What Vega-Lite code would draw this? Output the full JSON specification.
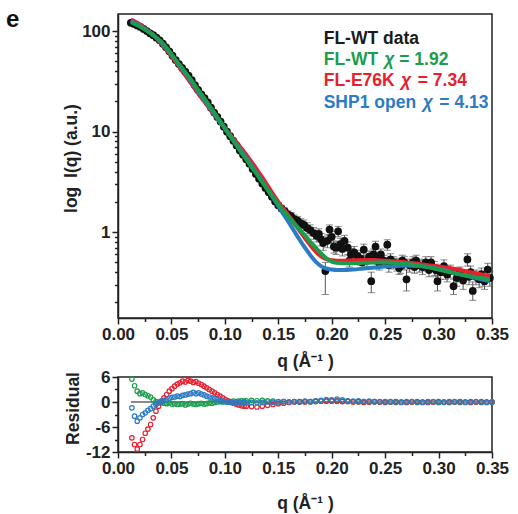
{
  "$schema": "https://vega.github.io/schema/vega-lite/v6.json",
  "background": "white",
  "padding": {"left": 5, "top": 7, "right": 5, "bottom": 5},
  "bounds": "flush",
  "spacing": 59,
  "config": {
    "font": "Liberation Sans",
    "view": {"stroke": "#222", "strokeWidth": 1.5},
    "axis": {
      "grid": false,
      "labelFont": "Liberation Sans", "labelFontWeight": "bold", "labelFontSize": 17, "labelColor": "#222",
      "titleFont": "Liberation Sans", "titleFontWeight": "bold", "titleFontSize": 17.5, "titleColor": "#222",
      "domainColor": "#222", "domainWidth": 1.5, "tickColor": "#222", "tickWidth": 1.5,
      "labelFlush": false, "labelOverlap": false, "labelPadding": 2
    }
  },
  "datasets": {
    "panel": [{"q": -0.1048, "I": 128, "t": "e"}],
    "obs": [
      {"q":0.012,"I":121},{"q":0.015,"I":118},{"q":0.018,"I":114},{"q":0.021,"I":110},{"q":0.024,"I":105},{"q":0.027,"I":100},{"q":0.030,"I":95},{"q":0.033,"I":91},{"q":0.036,"I":86},{"q":0.039,"I":81},{"q":0.042,"I":75},{"q":0.045,"I":69},{"q":0.048,"I":63},{"q":0.051,"I":57},{"q":0.054,"I":51.5},{"q":0.057,"I":47},{"q":0.060,"I":43},{"q":0.063,"I":39.5},{"q":0.066,"I":36},{"q":0.069,"I":32.5},{"q":0.072,"I":29},{"q":0.075,"I":26},{"q":0.078,"I":23.5},{"q":0.081,"I":21.5},{"q":0.084,"I":19.5},{"q":0.087,"I":17.3},{"q":0.090,"I":15.5},{"q":0.093,"I":14},{"q":0.096,"I":12.6},{"q":0.099,"I":11.2},{"q":0.102,"I":10},{"q":0.105,"I":9.0},{"q":0.108,"I":8.1},{"q":0.111,"I":7.3},{"q":0.114,"I":6.5},{"q":0.117,"I":5.9},{"q":0.120,"I":5.3},{"q":0.123,"I":4.8},{"q":0.126,"I":4.25},{"q":0.129,"I":3.8},{"q":0.132,"I":3.4},{"q":0.135,"I":3.05},{"q":0.138,"I":2.75},{"q":0.141,"I":2.5},{"q":0.144,"I":2.25},{"q":0.147,"I":2.02},
      {"q":0.150,"I":1.85,"lo":1.75,"hi":1.95},{"q":0.153,"I":1.72,"lo":1.62,"hi":1.82},{"q":0.156,"I":1.62,"lo":1.5,"hi":1.74},{"q":0.159,"I":1.5,"lo":1.38,"hi":1.62},{"q":0.162,"I":1.44,"lo":1.32,"hi":1.56},{"q":0.165,"I":1.35,"lo":1.22,"hi":1.48},{"q":0.168,"I":1.3,"lo":1.17,"hi":1.43},{"q":0.171,"I":1.22,"lo":1.08,"hi":1.36},{"q":0.174,"I":1.18,"lo":1.04,"hi":1.32},{"q":0.177,"I":1.1,"lo":0.96,"hi":1.24},{"q":0.180,"I":1.05,"lo":0.92,"hi":1.18},{"q":0.183,"I":0.98,"lo":0.85,"hi":1.11},{"q":0.186,"I":0.92,"lo":0.8,"hi":1.04},{"q":0.188,"I":0.96,"lo":0.84,"hi":1.08},{"q":0.190,"I":0.85,"lo":0.73,"hi":0.97},{"q":0.192,"I":0.78,"lo":0.66,"hi":0.9},{"q":0.194,"I":0.41,"lo":0.24,"hi":0.5},{"q":0.196,"I":0.82,"lo":0.7,"hi":0.94},{"q":0.198,"I":1.06,"lo":0.94,"hi":1.18},{"q":0.200,"I":0.9,"lo":0.78,"hi":1.02},{"q":0.202,"I":0.72,"lo":0.62,"hi":0.82},{"q":0.204,"I":0.7,"lo":0.6,"hi":0.8},{"q":0.206,"I":1.02,"lo":0.9,"hi":1.14},{"q":0.208,"I":0.76,"lo":0.65,"hi":0.87},{"q":0.210,"I":0.68,"lo":0.58,"hi":0.78},{"q":0.212,"I":0.82,"lo":0.71,"hi":0.93},{"q":0.215,"I":0.7,"lo":0.6,"hi":0.8},{"q":0.218,"I":0.6,"lo":0.51,"hi":0.69},{"q":0.221,"I":0.63,"lo":0.54,"hi":0.72},{"q":0.224,"I":0.58,"lo":0.5,"hi":0.66},{"q":0.227,"I":0.55,"lo":0.47,"hi":0.63},{"q":0.230,"I":0.67,"lo":0.58,"hi":0.76},{"q":0.233,"I":0.52,"lo":0.45,"hi":0.59},{"q":0.235,"I":0.57,"lo":0.49,"hi":0.65},{"q":0.237,"I":0.325,"lo":0.25,"hi":0.4},{"q":0.239,"I":0.6,"lo":0.52,"hi":0.68},{"q":0.241,"I":0.72,"lo":0.63,"hi":0.81},{"q":0.243,"I":0.555,"lo":0.48,"hi":0.63},{"q":0.246,"I":0.6,"lo":0.52,"hi":0.68},{"q":0.249,"I":0.52,"lo":0.45,"hi":0.59},{"q":0.252,"I":0.75,"lo":0.66,"hi":0.84},{"q":0.255,"I":0.535,"lo":0.46,"hi":0.61},{"q":0.258,"I":0.5,"lo":0.43,"hi":0.57},{"q":0.261,"I":0.48,"lo":0.41,"hi":0.55},{"q":0.263,"I":0.44,"lo":0.38,"hi":0.5},{"q":0.266,"I":0.52,"lo":0.45,"hi":0.59},{"q":0.268,"I":0.5,"lo":0.43,"hi":0.57},{"q":0.270,"I":0.34,"lo":0.26,"hi":0.42},{"q":0.273,"I":0.47,"lo":0.4,"hi":0.54},{"q":0.276,"I":0.5,"lo":0.43,"hi":0.57},{"q":0.279,"I":0.52,"lo":0.45,"hi":0.59},{"q":0.282,"I":0.47,"lo":0.4,"hi":0.54},{"q":0.285,"I":0.45,"lo":0.38,"hi":0.52},{"q":0.288,"I":0.5,"lo":0.43,"hi":0.57},{"q":0.291,"I":0.42,"lo":0.36,"hi":0.48},{"q":0.293,"I":0.5,"lo":0.43,"hi":0.57},{"q":0.296,"I":0.44,"lo":0.37,"hi":0.51},{"q":0.299,"I":0.325,"lo":0.26,"hi":0.39},{"q":0.302,"I":0.4,"lo":0.34,"hi":0.46},{"q":0.305,"I":0.46,"lo":0.39,"hi":0.53},{"q":0.308,"I":0.38,"lo":0.32,"hi":0.44},{"q":0.311,"I":0.41,"lo":0.35,"hi":0.47},{"q":0.314,"I":0.29,"lo":0.24,"hi":0.34},{"q":0.317,"I":0.35,"lo":0.29,"hi":0.41},{"q":0.320,"I":0.39,"lo":0.33,"hi":0.45},{"q":0.323,"I":0.33,"lo":0.27,"hi":0.39},{"q":0.327,"I":0.535,"lo":0.46,"hi":0.61},{"q":0.330,"I":0.4,"lo":0.34,"hi":0.46},{"q":0.332,"I":0.26,"lo":0.21,"hi":0.32},{"q":0.335,"I":0.36,"lo":0.3,"hi":0.42},{"q":0.338,"I":0.34,"lo":0.28,"hi":0.4},{"q":0.340,"I":0.38,"lo":0.32,"hi":0.44},{"q":0.343,"I":0.325,"lo":0.27,"hi":0.38},{"q":0.346,"I":0.425,"lo":0.36,"hi":0.49},{"q":0.348,"I":0.35,"lo":0.29,"hi":0.41},
      {"q":0.2165,"I":0.52,"lo":0.45,"hi":0.59},{"q":0.2285,"I":0.5,"lo":0.43,"hi":0.57},{"q":0.2445,"I":0.49,"lo":0.42,"hi":0.56},{"q":0.2535,"I":0.47,"lo":0.4,"hi":0.54},{"q":0.2645,"I":0.46,"lo":0.39,"hi":0.53},{"q":0.2775,"I":0.45,"lo":0.39,"hi":0.51},{"q":0.2865,"I":0.47,"lo":0.41,"hi":0.53},{"q":0.2975,"I":0.42,"lo":0.36,"hi":0.48},{"q":0.3065,"I":0.4,"lo":0.34,"hi":0.46},{"q":0.3185,"I":0.38,"lo":0.32,"hi":0.44},{"q":0.3285,"I":0.36,"lo":0.3,"hi":0.42},{"q":0.3415,"I":0.35,"lo":0.29,"hi":0.41}
    ],
    "fits": [
      {"q":0.012,"g":122,"r":130,"b":126},{"q":0.015,"g":119,"r":126,"b":122},{"q":0.020,"g":112,"r":117,"b":114},{"q":0.025,"g":104,"r":107,"b":105},{"q":0.030,"g":96,"r":97,"b":96.5},{"q":0.035,"g":88,"r":87,"b":88},{"q":0.040,"g":79,"r":76,"b":78},{"q":0.045,"g":69.5,"r":66,"b":68},{"q":0.050,"g":59,"r":56,"b":58},{"q":0.055,"g":50,"r":48,"b":49.5},{"q":0.060,"g":43,"r":40,"b":42},{"q":0.065,"g":36.5,"r":34,"b":35.5},{"q":0.070,"g":31,"r":28.5,"b":30},{"q":0.075,"g":26,"r":24,"b":25},{"q":0.080,"g":22,"r":20.5,"b":21.2},{"q":0.085,"g":18.5,"r":17.3,"b":17.8},{"q":0.090,"g":15.5,"r":14.8,"b":15},{"q":0.095,"g":13,"r":12.6,"b":12.7},{"q":0.100,"g":10.8,"r":10.8,"b":10.8},{"q":0.105,"g":9.0,"r":9.3,"b":9.1},{"q":0.110,"g":7.5,"r":8.0,"b":7.7},{"q":0.115,"g":6.3,"r":6.9,"b":6.5},{"q":0.120,"g":5.3,"r":5.9,"b":5.5},{"q":0.125,"g":4.45,"r":5.0,"b":4.6},{"q":0.130,"g":3.75,"r":4.2,"b":3.85},{"q":0.135,"g":3.15,"r":3.5,"b":3.2},{"q":0.140,"g":2.65,"r":2.9,"b":2.65},{"q":0.145,"g":2.25,"r":2.4,"b":2.2},{"q":0.150,"g":1.9,"r":2.0,"b":1.82},{"q":0.155,"g":1.62,"r":1.7,"b":1.5},{"q":0.160,"g":1.4,"r":1.45,"b":1.24},{"q":0.165,"g":1.22,"r":1.22,"b":1.02},{"q":0.170,"g":1.06,"r":1.03,"b":0.84},{"q":0.175,"g":0.92,"r":0.87,"b":0.7},{"q":0.180,"g":0.8,"r":0.74,"b":0.59},{"q":0.185,"g":0.7,"r":0.64,"b":0.51},{"q":0.190,"g":0.615,"r":0.575,"b":0.46},{"q":0.195,"g":0.55,"r":0.54,"b":0.435},{"q":0.200,"g":0.51,"r":0.525,"b":0.425},{"q":0.205,"g":0.495,"r":0.52,"b":0.42},{"q":0.210,"g":0.49,"r":0.52,"b":0.42},{"q":0.220,"g":0.49,"r":0.525,"b":0.425},{"q":0.230,"g":0.495,"r":0.53,"b":0.435},{"q":0.240,"g":0.5,"r":0.53,"b":0.445},{"q":0.250,"g":0.5,"r":0.52,"b":0.455},{"q":0.260,"g":0.495,"r":0.51,"b":0.46},{"q":0.270,"g":0.485,"r":0.5,"b":0.465},{"q":0.280,"g":0.47,"r":0.485,"b":0.46},{"q":0.290,"g":0.45,"r":0.47,"b":0.45},{"q":0.300,"g":0.425,"r":0.455,"b":0.43},{"q":0.310,"g":0.4,"r":0.44,"b":0.405},{"q":0.320,"g":0.38,"r":0.42,"b":0.38},{"q":0.330,"g":0.365,"r":0.4,"b":0.36},{"q":0.340,"g":0.35,"r":0.38,"b":0.34},{"q":0.348,"g":0.34,"r":0.365,"b":0.325}
    ],
    "legendText": [
      {"q":0.1925,"I":83.8,"t":"FL-WT data","s":"data"},
      {"q":0.1925,"I":51.1,"t":"FL-WT","s":"wt"},
      {"q":0.2632,"I":51.1,"t":"= 1.92","s":"wt"},
      {"q":0.1925,"I":31.8,"t":"FL-E76K","s":"e76k"},
      {"q":0.2805,"I":31.8,"t":"= 7.34","s":"e76k"},
      {"q":0.1925,"I":19.4,"t":"SHP1 open","s":"open"},
      {"q":0.3007,"I":19.4,"t":"= 4.13","s":"open"}
    ],
    "legendChi": [
      {"q":0.2492,"I":51.1,"t":"χ","s":"wt"},
      {"q":0.2648,"I":31.8,"t":"χ","s":"e76k"},
      {"q":0.2851,"I":19.4,"t":"χ","s":"open"}
    ],
    "res": [
      {"q":0.013,"g":5.5,"r":-8.6,"b":-1.4},{"q":0.0155,"g":3.9,"r":-10.2,"b":-3.4},{"q":0.018,"g":2.6,"r":-11.3,"b":-4.6},{"q":0.0205,"g":2.0,"r":-10.2,"b":-3.8},{"q":0.023,"g":2.2,"r":-9.0,"b":-3.0},{"q":0.0255,"g":1.8,"r":-7.5,"b":-2.6},{"q":0.028,"g":1.5,"r":-6.5,"b":-2.0},{"q":0.0305,"g":1.2,"r":-5.4,"b":-1.6},{"q":0.033,"g":0.5,"r":-3.8,"b":-1.0},{"q":0.0355,"g":0.1,"r":-2.2,"b":-0.6},{"q":0.038,"g":-0.2,"r":-1.0,"b":-0.1},{"q":0.0405,"g":-0.1,"r":0.2,"b":0.2},{"q":0.043,"g":-0.3,"r":1.0,"b":0.4},{"q":0.0455,"g":-0.4,"r":1.8,"b":0.6},{"q":0.048,"g":-0.2,"r":2.6,"b":0.9},{"q":0.0505,"g":-0.5,"r":3.2,"b":1.1},{"q":0.053,"g":-0.4,"r":3.8,"b":1.2},{"q":0.0555,"g":-0.6,"r":4.3,"b":1.4},{"q":0.058,"g":-0.5,"r":4.6,"b":1.3},{"q":0.0605,"g":-0.4,"r":5.0,"b":1.6},{"q":0.063,"g":-0.7,"r":4.8,"b":1.7},{"q":0.0655,"g":-0.5,"r":5.2,"b":1.9},{"q":0.068,"g":-0.3,"r":5.0,"b":2.0},{"q":0.0705,"g":-0.5,"r":4.7,"b":2.3},{"q":0.073,"g":-0.6,"r":4.9,"b":2.0},{"q":0.0755,"g":-0.4,"r":4.5,"b":2.2},{"q":0.078,"g":-0.3,"r":4.2,"b":1.9},{"q":0.0805,"g":-0.5,"r":3.8,"b":1.7},{"q":0.083,"g":-0.4,"r":3.4,"b":1.4},{"q":0.0855,"g":-0.2,"r":3.0,"b":1.2},{"q":0.088,"g":-0.3,"r":2.6,"b":1.0},{"q":0.0905,"g":-0.1,"r":2.2,"b":0.8},{"q":0.093,"g":0.0,"r":1.8,"b":0.6},{"q":0.0955,"g":0.1,"r":1.4,"b":0.4},{"q":0.098,"g":0.0,"r":1.0,"b":0.2},{"q":0.1005,"g":0.1,"r":0.6,"b":0.1},{"q":0.103,"g":0.0,"r":0.3,"b":0.0},{"q":0.1055,"g":0.1,"r":0.0,"b":-0.1},{"q":0.108,"g":0.2,"r":-0.3,"b":-0.2},{"q":0.1105,"g":0.1,"r":-0.5,"b":-0.2},{"q":0.113,"g":0.2,"r":-0.7,"b":-0.1},{"q":0.1155,"g":0.3,"r":-0.9,"b":-0.2},{"q":0.118,"g":0.2,"r":-1.0,"b":-0.1},
      {"q":0.120,"g":0.3,"r":-1.0,"b":-0.2},{"q":0.125,"g":0.4,"r":-1.1,"b":-0.1},{"q":0.130,"g":0.3,"r":-1.2,"b":-0.2},{"q":0.135,"g":0.4,"r":-1.0,"b":-0.1},{"q":0.140,"g":0.3,"r":-0.8,"b":0.0},{"q":0.145,"g":0.2,"r":-0.6,"b":-0.1},{"q":0.150,"g":0.1,"r":-0.4,"b":0.0},{"q":0.155,"g":0.1,"r":-0.3,"b":0.1},{"q":0.160,"g":0.0,"r":-0.1,"b":0.0},{"q":0.165,"g":0.1,"r":0.0,"b":0.1},{"q":0.170,"g":0.0,"r":0.1,"b":0.0},{"q":0.175,"g":0.1,"r":0.0,"b":0.2},{"q":0.180,"g":0.0,"r":0.1,"b":0.1},{"q":0.185,"g":0.1,"r":0.2,"b":0.3},{"q":0.190,"g":0.2,"r":0.3,"b":0.4},{"q":0.195,"g":0.3,"r":0.2,"b":0.6},{"q":0.200,"g":0.2,"r":0.3,"b":0.5},{"q":0.205,"g":0.3,"r":0.2,"b":0.7},{"q":0.210,"g":0.2,"r":0.1,"b":0.5},{"q":0.215,"g":0.1,"r":0.2,"b":0.3},{"q":0.220,"g":0.1,"r":0.0,"b":0.2},{"q":0.225,"g":0.0,"r":0.1,"b":0.3},{"q":0.230,"g":0.1,"r":-0.1,"b":0.1},{"q":0.235,"g":0.0,"r":0.0,"b":0.2},{"q":0.240,"g":0.1,"r":0.1,"b":0.0},{"q":0.245,"g":0.0,"r":0.0,"b":0.1},{"q":0.250,"g":0.1,"r":-0.1,"b":0.0},{"q":0.255,"g":0.0,"r":0.0,"b":0.1},{"q":0.260,"g":-0.1,"r":0.1,"b":0.0},{"q":0.265,"g":0.0,"r":0.0,"b":-0.1},{"q":0.270,"g":0.1,"r":-0.1,"b":0.0},{"q":0.275,"g":0.0,"r":0.0,"b":0.1},{"q":0.280,"g":-0.1,"r":0.1,"b":0.0},{"q":0.285,"g":0.0,"r":0.0,"b":-0.1},{"q":0.290,"g":0.1,"r":-0.1,"b":0.0},{"q":0.295,"g":0.0,"r":0.0,"b":0.1},{"q":0.300,"g":-0.1,"r":0.1,"b":0.0},{"q":0.305,"g":0.0,"r":0.0,"b":-0.1},{"q":0.310,"g":0.1,"r":-0.1,"b":0.0},{"q":0.315,"g":0.0,"r":0.0,"b":0.1},{"q":0.320,"g":-0.1,"r":0.1,"b":0.0},{"q":0.325,"g":0.0,"r":0.0,"b":-0.1},{"q":0.330,"g":0.1,"r":-0.1,"b":0.0},{"q":0.335,"g":0.0,"r":0.0,"b":0.1},{"q":0.340,"g":-0.1,"r":0.1,"b":0.0},{"q":0.345,"g":0.0,"r":0.0,"b":-0.1},{"q":0.350,"g":0.0,"r":0.0,"b":0.0}
    ]
  },
  "vconcat": [
    {
      "width": 374,
      "height": 304,
      "encoding": {
        "x": {
          "field": "q", "type": "quantitative",
          "scale": {"domain": [0, 0.35], "nice": false, "zero": false},
          "axis": {
            "values": [0, 0.025, 0.05, 0.075, 0.1, 0.125, 0.15, 0.175, 0.2, 0.225, 0.25, 0.275, 0.3, 0.325, 0.35],
            "labelExpr": "abs(datum.value*20 - round(datum.value*20)) < 0.001 ? format(datum.value, '.2f') : ''",
            "tickSize": {"condition": {"test": "abs(datum.value*20 - round(datum.value*20)) < 0.001", "value": 6}, "value": 3.5},
            "labelOverlap": false,
            "title": "q (Å⁻¹ )",
            "titlePadding": 10
          }
        }
      },
      "layer": [
        {
          "data": {"name": "obs"},
          "transform": [{"filter": "datum.lo != null"}],
          "mark": {"type": "errorbar", "ticks": {"size": 7}, "color": "#555", "thickness": 1},
          "encoding": {
            "y": {
              "field": "lo", "type": "quantitative",
              "scale": {"type": "log", "domain": [0.14, 148], "nice": false},
              "axis": {
                "values": [0.2, 0.3, 0.4, 0.5, 0.6, 0.7, 0.8, 0.9, 1, 2, 3, 4, 5, 6, 7, 8, 9, 10, 20, 30, 40, 50, 60, 70, 80, 90, 100],
                "labelExpr": "datum.value == 100 ? '100' : datum.value == 10 ? '10' : datum.value == 1 ? '1' : ''",
                "tickSize": {"condition": {"test": "datum.value == 1 || datum.value == 10 || datum.value == 100", "value": 6}, "value": 3.5},
                "labelOverlap": false,
                "title": "log\u2002I(q) (a.u.)",
                "titlePadding": 1,
                "titleY": 144
              }
            },
            "y2": {"field": "hi"}
          }
        },
        {
          "data": {"name": "obs"},
          "mark": {"type": "circle", "size": 60, "color": "#111", "opacity": 1},
          "encoding": {"y": {"field": "I", "type": "quantitative"}}
        },
        {
          "data": {"name": "fits"},
          "mark": {"type": "line", "strokeWidth": 4, "color": "#e8202e", "interpolate": "monotone"},
          "encoding": {"y": {"field": "r", "type": "quantitative"}}
        },
        {
          "data": {"name": "fits"},
          "mark": {"type": "line", "strokeWidth": 4, "color": "#2c7cc4", "interpolate": "monotone"},
          "encoding": {"y": {"field": "b", "type": "quantitative"}}
        },
        {
          "data": {"name": "fits"},
          "mark": {"type": "line", "strokeWidth": 4, "color": "#1b9d4b", "interpolate": "monotone"},
          "encoding": {"y": {"field": "g", "type": "quantitative"}}
        },
        {
          "data": {"name": "legendText"},
          "mark": {"type": "text", "align": "left", "baseline": "middle", "fontSize": 17.5, "fontWeight": "bold", "font": "Liberation Sans"},
          "encoding": {
            "y": {"field": "I", "type": "quantitative"},
            "text": {"field": "t"},
            "color": {"field": "s", "type": "nominal", "scale": {"domain": ["data", "wt", "e76k", "open"], "range": ["#1a1a1a", "#1b9d4b", "#e8202e", "#2c7cc4"]}, "legend": null}
          }
        },
        {
          "data": {"name": "legendChi"},
          "mark": {"type": "text", "align": "left", "baseline": "middle", "fontSize": 17.5, "fontWeight": "bold", "fontStyle": "italic", "font": "Liberation Sans"},
          "encoding": {
            "y": {"field": "I", "type": "quantitative"},
            "text": {"field": "t"},
            "color": {"field": "s", "type": "nominal", "legend": null}
          }
        },
        {
          "data": {"name": "panel"},
          "mark": {"type": "text", "align": "left", "baseline": "middle", "fontSize": 24, "fontWeight": "bold", "font": "Liberation Sans", "color": "#111"},
          "encoding": {
            "y": {"field": "I", "type": "quantitative"},
            "text": {"field": "t"}
          }
        }
      ]
    },
    {
      "width": 374,
      "height": 75,
      "encoding": {
        "x": {
          "field": "q", "type": "quantitative",
          "scale": {"domain": [0, 0.35], "nice": false, "zero": false},
          "axis": {
            "values": [0, 0.025, 0.05, 0.075, 0.1, 0.125, 0.15, 0.175, 0.2, 0.225, 0.25, 0.275, 0.3, 0.325, 0.35],
            "labelExpr": "abs(datum.value*20 - round(datum.value*20)) < 0.001 ? format(datum.value, '.2f') : ''",
            "tickSize": {"condition": {"test": "abs(datum.value*20 - round(datum.value*20)) < 0.001", "value": 6}, "value": 3.5},
            "labelOverlap": false,
            "title": "q (Å⁻¹ )",
            "titlePadding": 18
          }
        },
        "y": {
          "field": "g", "type": "quantitative",
          "scale": {"domain": [-12, 6], "nice": false, "zero": false},
          "axis": {
            "values": [-12, -9, -6, -3, 0, 3, 6],
            "labelExpr": "datum.value == 6 ? '6' : datum.value == 0 ? '0' : datum.value == -6 ? '-6' : datum.value == -12 ? '-12' : ''",
            "tickSize": {"condition": {"test": "datum.value == 6 || datum.value == 0 || datum.value == -6 || datum.value == -12", "value": 6}, "value": 3.5},
            "labelOverlap": false,
            "title": "Residual",
            "titlePadding": 3,
            "titleY": 31
          }
        }
      },
      "layer": [
        {
          "data": {"name": "res"},
          "mark": {"type": "rule", "color": "#8a8a8a", "strokeWidth": 1.5},
          "encoding": {
            "x": {"datum": 0.013, "type": "quantitative"},
            "x2": {"datum": 0.35},
            "y": {"datum": 0, "type": "quantitative"}
          }
        },
        {
          "data": {"name": "res"},
          "mark": {"type": "point", "filled": false, "size": 20, "strokeWidth": 1.2, "color": "#1b9d4b", "opacity": 1}
        },
        {
          "data": {"name": "res"},
          "mark": {"type": "point", "filled": false, "size": 20, "strokeWidth": 1.2, "color": "#e8202e", "opacity": 1},
          "encoding": {"y": {"field": "r", "type": "quantitative"}}
        },
        {
          "data": {"name": "res"},
          "mark": {"type": "point", "filled": false, "size": 20, "strokeWidth": 1.2, "color": "#2c7cc4", "opacity": 1},
          "encoding": {"y": {"field": "b", "type": "quantitative"}}
        }
      ]
    }
  ]
}
